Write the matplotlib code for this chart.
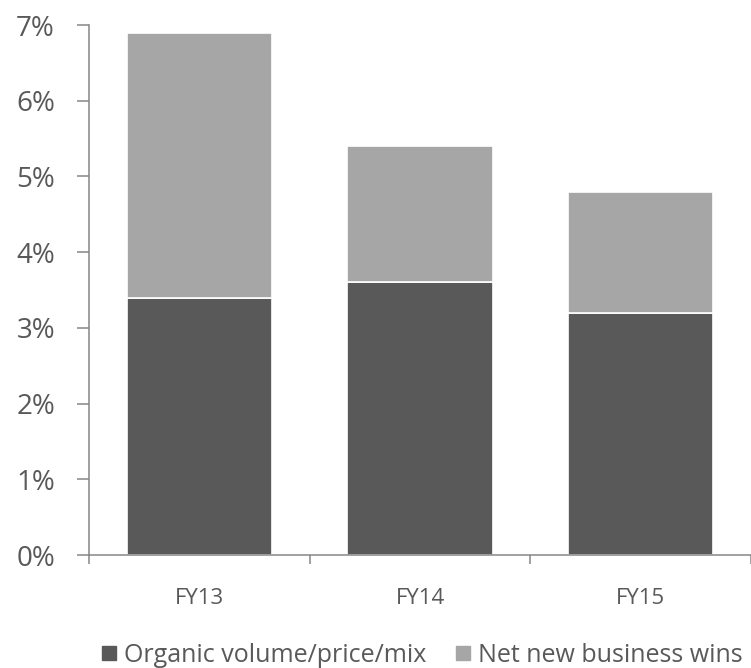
import matplotlib
matplotlib.use('Agg')
import matplotlib.pyplot as plt
from matplotlib.ticker import FixedLocator, FuncFormatter
from matplotlib.lines import Line2D

plt.rcParams['font.family'] = ['Open Sans', 'DejaVu Sans']

# data (percent)
years = ['FY13', 'FY14', 'FY15']
organic = [3.4, 3.6, 3.2]
new_wins = [3.5, 1.8, 1.6]
series_names = ['Organic volume/price/mix', 'Net new business wins']
colors = ['#595959', '#a6a6a6']
text_color = '#595959'
axis_color = '#868686'

fig = plt.figure(figsize=(7.51, 6.68), dpi=100)
ax = fig.add_axes([89 / 751, 1 - 555 / 668, 1 - 89 / 751, (555 - 25) / 668])

x = list(range(len(years)))
ax.bar(x, organic, width=0.66, color=colors[0], edgecolor='white', linewidth=1.2)
ax.bar(x, new_wins, width=0.66, bottom=organic, color=colors[1],
       edgecolor='white', linewidth=1.2)

ax.set_xlim(-0.5, len(years) - 0.5)
ax.set_ylim(0, 7)

for s in ['top', 'right']:
    ax.spines[s].set_visible(False)
for s in ['left', 'bottom']:
    ax.spines[s].set_color(axis_color)
    ax.spines[s].set_linewidth(1.1)

ax.set_yticks(range(0, 8))
ax.yaxis.set_major_formatter(FuncFormatter(lambda v, p: f'{int(v)}%'))
ax.tick_params(axis='y', length=8.5, width=1.1, color=axis_color, pad=16,
               labelsize=20, labelcolor=text_color)

ax.set_xticks(x)
ax.set_xticklabels(years)
ax.xaxis.set_minor_locator(FixedLocator([i - 0.5 for i in range(len(years) + 1)]))
ax.tick_params(axis='x', which='major', length=0, pad=24, labelsize=16,
               labelcolor=text_color)
ax.tick_params(axis='x', which='minor', length=6.5, width=1.1, color=axis_color)

handles = [Line2D([], [], marker='s', linestyle='none', markersize=9.5,
                  markerfacecolor=c, markeredgecolor=c) for c in colors]
fig.legend(handles, series_names, loc='center', bbox_to_anchor=(0.562, 1 - 655 / 668),
           ncol=2, frameon=False, fontsize=18, labelcolor=text_color,
           handlelength=0.6, handletextpad=0.3, columnspacing=1.2)

fig.savefig('out.png', dpi=100)
